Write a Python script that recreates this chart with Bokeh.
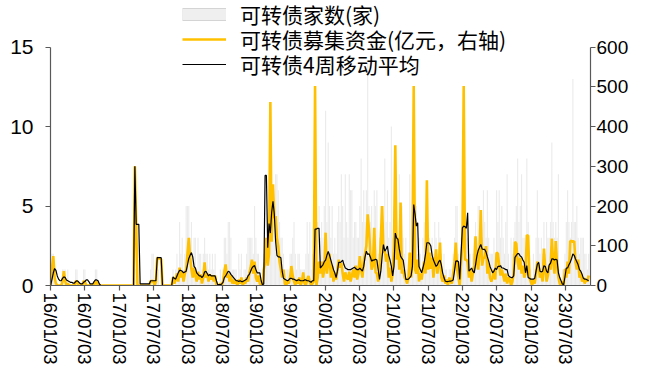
import pandas as pd
from bokeh.plotting import figure
from bokeh.models import (ColumnDataSource, Range1d, LinearAxis, FixedTicker,
                          DatetimeTickFormatter, Legend, LegendItem)
from bokeh.embed import file_html
from bokeh.resources import INLINE

# ---------------- data (weekly, first week 2016-01-03) ----------------
first_week = "2016-01-03"

# 可转债家数(家) - left axis
cnt = [
    0,2,2,1,0,0,0,0,0,1,1,1,0,1,0,0,0,0,0,1,
    1,0,0,0,0,1,1,0,0,0,0,0,0,0,1,1,0,0,0,0,
    0,0,0,0,0,0,0,0,0,0,0,0,0,0,0,0,0,0,0,0,
    0,0,0,0,1,1,0,0,0,0,0,0,0,0,0,0,1,2,2,0,
    1,1,1,0,1,0,0,0,0,0,0,0,0,1,0,1,2,1,4,2,
    3,1,2,5,5,5,3,4,2,3,3,1,3,2,2,1,2,3,2,2,
    1,2,1,2,1,2,0,0,0,1,0,1,3,3,2,4,4,3,1,1,
    1,1,0,2,1,2,0,1,1,2,3,3,3,3,2,5,3,2,2,1,
    0,1,2,3,3,2,2,4,6,4,5,7,7,6,4,3,3,2,1,1,
    1,1,2,2,3,4,2,1,2,2,1,1,1,1,2,4,2,4,1,2,
    2,3,5,4,5,3,4,3,5,11,4,9,5,3,5,2,3,2,4,5,
    4,7,5,3,7,4,3,7,6,6,3,4,4,3,3,5,8,4,6,4,
    6,14,5,4,5,3,6,5,6,2,3,5,5,4,8,4,6,3,4,10,
    3,5,5,4,3,7,4,5,3,2,3,1,2,7,2,3,4,3,5,2,
    3,2,1,3,4,2,3,4,3,2,3,2,4,3,2,4,3,2,1,2,
    1,1,0,1,1,1,2,3,5,5,2,0,3,3,4,3,4,3,2,2,
    1,2,3,4,3,5,5,3,3,6,4,3,6,3,2,2,2,3,2,6,
    4,6,3,5,3,2,4,7,2,1,3,2,3,4,5,8,4,5,7,3,
    3,2,8,4,2,1,0,2,1,3,6,3,2,3,2,4,2,4,3,3,
    4,9,4,3,4,3,7,1,0,1,1,2,4,6,4,3,4,13,4,4,
    5,3,2,3,3,3,2,2,1,2,
]

# 可转债募集资金(亿元) - right axis
amt = [
    0,45,74,20,5,0,0,0,0,10,36,12,0,5,0,0,0,0,0,10,
    11,0,0,0,0,11,10,0,0,0,0,0,0,0,11,8,0,0,0,0,
    0,0,0,0,0,0,0,0,0,0,0,0,0,0,0,0,0,0,0,0,
    0,0,0,0,300,154,0,0,0,0,0,0,0,0,0,0,12,10,12,0,
    10,70,68,68,66,0,0,0,0,0,0,0,0,20,5,15,30,10,45,20,
    35,10,30,40,80,120,70,40,20,45,25,10,35,15,28,5,20,58,20,30,
    10,28,15,25,10,25,0,0,0,5,0,10,35,53,20,30,10,25,5,15,
    5,10,0,15,5,20,0,10,5,20,10,30,45,65,30,60,20,10,25,5,
    0,0,40,60,120,50,80,462,110,255,170,175,120,99,60,40,20,40,5,0,
    10,5,20,49,25,10,0,15,5,20,0,10,33,5,0,15,24,10,0,5,
    10,502,0,20,60,30,60,20,40,133,30,57,80,20,50,10,30,15,40,65,
    45,57,30,10,33,20,15,35,10,25,40,20,50,15,30,74,40,20,60,80,
    100,179,141,82,40,50,145,33,30,10,40,120,200,82,90,60,80,20,45,10,
    30,100,353,65,120,40,209,30,40,20,15,5,20,83,20,60,502,40,30,65,
    10,30,15,40,60,30,265,40,83,42,70,20,55,91,30,50,108,20,10,25,
    5,15,0,20,10,5,30,60,108,40,20,0,60,100,502,65,65,60,20,40,
    10,30,50,124,60,40,80,190,50,70,70,99,30,55,20,10,20,40,15,83,
    80,50,25,40,25,10,30,5,20,15,0,10,30,110,105,60,40,70,30,50,
    20,30,127,125,20,10,0,15,5,30,60,50,20,30,10,93,40,10,25,50,
    40,118,60,30,112,50,20,5,0,10,0,42,20,60,30,112,112,110,112,60,
    40,65,20,33,10,20,5,15,10,25,
]

# 可转债4周移动平均 - left axis
ma = [
    0,0.4,0.8,1.07,0.95,0.6,0.4,0.3,0.3,0.45,0.55,0.5,0.35,0.3,0.25,0.2,0.2,0.15,0.15,0.25,
    0.3,0.25,0.15,0.1,0.1,0.2,0.25,0.35,0.35,0.25,0.1,0.1,0.1,0.25,0.35,0.35,0.3,0.1,0,0,
    0,0,0,0,0,0,0,0,0,0,0,0,0,0,0,0,0,0,0,0,
    0,0,0,0,7.5,3.85,3.85,3.85,0.1,0.1,0.1,0.1,0.1,0.1,0.1,0.1,0.3,0.3,0.3,0.3,
    0.3,1.75,1.75,1.75,1.75,0,0,0,0,0,0,0,0,0.55,0.45,0.4,0.6,0.8,0.95,0.95,
    0.9,0.8,0.85,0.9,1.3,1.7,1.9,2.07,1.8,1.2,1.1,0.8,0.7,0.6,0.6,0.5,0.6,0.85,0.9,0.75,
    0.6,0.7,0.6,0.6,0.6,0.6,0.3,0.05,0.05,0.05,0.1,0.2,0.5,0.6,0.75,0.9,0.85,0.7,0.6,0.5,
    0.4,0.3,0.3,0.25,0.3,0.25,0.25,0.3,0.35,0.4,0.6,0.7,0.9,1.1,1.2,1.26,1.0,0.8,0.8,0.8,
    0.3,0.05,0.1,6.93,6.93,2.38,3.9,3.3,4.6,5.3,4.5,2.8,1.9,1.8,1.8,1.75,0.9,0.45,0.4,0.35,
    0.3,0.35,0.45,0.45,0.4,0.4,0.35,0.3,0.35,0.35,0.3,0.3,0.3,0.35,0.35,0.3,0.3,0.25,0.2,0.3,
    0.3,3.55,3.55,3.6,3.6,1.1,1.2,1.3,1.5,1.6,1.9,2.15,1.9,1.6,1.3,1.0,0.8,0.5,0.9,1.45,
    1.45,1.5,1.6,1.3,1.1,1.05,1.0,1.0,1.0,1.05,1.1,1.15,1.05,1.0,1.0,1.1,1.0,0.9,1.2,1.8,
    2.16,1.95,2.0,1.8,1.53,1.6,1.6,1.65,1.6,1.0,0.38,0.9,1.85,2.58,2.16,2.3,2.48,1.9,1.6,1.2,
    0.6,1.2,3.3,3.0,2.9,2.3,1.85,1.7,1.6,1.0,0.38,0.38,0.4,0.5,0.6,1.2,5.1,4.5,3.74,3.95,
    1.2,1.0,0.8,1.1,1.45,2.0,2.69,2.69,2.65,2.48,1.9,1.6,1.4,1.2,1.3,1.5,1.6,1.3,0.8,0.5,
    0.27,0.25,0.25,0.27,0.27,0.3,0.35,0.9,1.53,1.55,1.5,0.38,2.0,3.63,3.74,3.7,3.6,4.58,0.9,1.0,
    1.1,0.9,0.8,1.3,1.85,2.2,2.4,2.58,2.3,2.27,2.27,2.1,1.8,1.53,1.2,1.0,0.8,0.9,1.1,1.0,
    1.2,1.2,1.25,1.1,1.1,1.05,1.0,1.0,0.62,0.55,0.5,0.5,0.6,1.77,1.9,2.0,2.0,1.85,1.8,1.6,
    1.46,0.8,1.25,0.5,0.45,0.4,0.4,0.4,0.45,0.9,1.35,1.45,0.9,0.85,0.9,1.25,1.2,0.9,0.8,1.3,
    1.4,1.67,1.67,1.6,1.65,1.6,0.8,0.5,0.3,0.1,0.05,0.55,1.1,1.1,1.3,1.46,1.7,1.98,1.9,1.67,
    1.5,1.3,1.0,0.9,0.7,0.45,0.4,0.4,0.35,0.3,
]

tick_dates = ["2016-01-03", "2016-07-03", "2017-01-03", "2017-07-03",
              "2018-01-03", "2018-07-03", "2019-01-03", "2019-07-03",
              "2020-01-03", "2020-07-03", "2021-01-03", "2021-07-03",
              "2022-01-03", "2022-07-03", "2023-01-03", "2023-07-03"]
left_ticks = [0, 5, 10, 15]
right_ticks = [0, 100, 200, 300, 400, 500, 600]

labels = ["可转债家数(家)", "可转债募集资金(亿元，右轴)", "可转债4周移动平均"]

# ---------------- layout constants (pixels) ----------------
W, H = 631, 367
B_LEFT, B_RIGHT, B_BOTTOM = 50, 38, 80
FRAME_H = H - B_BOTTOM          # frame spans full top so legend is not clipped
AXIS_H = 240                    # pixel height of the 0..15 / 0..600 scale
top_frac = FRAME_H / AXIS_H

# ---------------- build ----------------
n = len(cnt)
dates = pd.date_range(first_week, periods=n, freq="7D")
src = ColumnDataSource(dict(date=dates, cnt=cnt, amt=amt, ma=ma))

x0 = dates[0] - pd.Timedelta(days=1)
x1 = dates[0] + pd.Timedelta(weeks=410.4)

p = figure(width=W, height=H, x_axis_type="datetime",
           x_range=Range1d(x0, x1),
           y_range=Range1d(0, left_ticks[-1] * top_frac),
           output_backend="svg", toolbar_location=None,
           min_border_left=B_LEFT, min_border_right=B_RIGHT,
           min_border_top=0, min_border_bottom=B_BOTTOM)
p.extra_y_ranges = {"amt": Range1d(0, right_ticks[-1] * top_frac)}

p.xgrid.visible = False
p.ygrid.visible = False
p.outline_line_color = None
p.background_fill_color = "white"
p.border_fill_color = "white"

bar_color = "#EBEBEB"
gold = "#FFC000"

p.vbar(x="date", top="cnt", width=pd.Timedelta(days=6).total_seconds() * 1000,
       source=src, fill_color=bar_color, line_color=None)
r_amt = p.line(x="date", y="amt", source=src, y_range_name="amt",
               line_color=gold, line_width=2.6)
r_ma = p.line(x="date", y="ma", source=src, line_color="black", line_width=1.2)

# legend swatch for the bars: lines holding a single NaN point (draw nothing in the plot)
nan_src = ColumnDataSource(dict(date=[dates[0]], v=[float("nan")]))
sw_border = p.line(x="date", y="v", source=nan_src, line_color="#D4D4D4",
                   line_width=13, line_cap="butt")
sw_fill = p.line(x="date", y="v", source=nan_src, line_color="#EFEFEF",
                 line_width=11, line_cap="butt")

# axes
tick_ms = [pd.Timestamp(d).value // 10**6 for d in tick_dates]
xa = p.xaxis[0]
xa.ticker = FixedTicker(ticks=tick_ms)
fmt = "%y/%m/%d"
xa.formatter = DatetimeTickFormatter(
    years=fmt, months=fmt, days=fmt, hours=fmt, minutes=fmt, seconds=fmt,
    milliseconds=fmt, microseconds=fmt, minsec=fmt, hourmin=fmt)
xa.major_label_orientation = "vertical"
xa.major_label_text_font_size = "18.5px"
xa.major_label_standoff = 2

ya = p.yaxis[0]
ya.ticker = FixedTicker(ticks=left_ticks)
ya.bounds = (left_ticks[0], left_ticks[-1])

ra = LinearAxis(y_range_name="amt", ticker=FixedTicker(ticks=right_ticks),
                bounds=(right_ticks[0], right_ticks[-1]))
p.add_layout(ra, "right")

for ax in (xa, ya, ra):
    ax.axis_line_color = "#595959"
    ax.axis_line_width = 1.2
    ax.major_tick_line_color = "#595959"
    ax.major_tick_line_width = 1.2
    ax.major_tick_out = 5
    ax.major_tick_in = 0
    ax.minor_tick_line_color = None
    ax.major_label_text_font = "Liberation Sans"
    ax.major_label_text_color = "black"
ya.major_label_text_font_size = "21px"
ra.major_label_text_font_size = "19px"
ya.major_label_standoff = 12
ra.major_label_standoff = 1

# one legend per row so that each row sits exactly where the reference has it
ITEM_H = 36
row_centers = [16, 41, 66]      # pixel rows from the top of the picture
row_renderers = [[sw_border, sw_fill], [r_amt], [r_ma]]
for lab, rens, yc in zip(labels, row_renderers, row_centers):
    lg = Legend(items=[LegendItem(label=lab, renderers=rens)],
                location=(132, FRAME_H - yc - ITEM_H / 2),
                orientation="vertical",
                glyph_width=44, glyph_height=ITEM_H, label_height=ITEM_H,
                spacing=0, label_standoff=14, padding=0, margin=0,
                border_line_color=None, background_fill_alpha=0,
                label_text_font="Noto Sans CJK SC", label_text_font_size="21px",
                label_text_color="black")
    p.add_layout(lg, "center")

open("out.html", "w").write(file_html(p, INLINE))
